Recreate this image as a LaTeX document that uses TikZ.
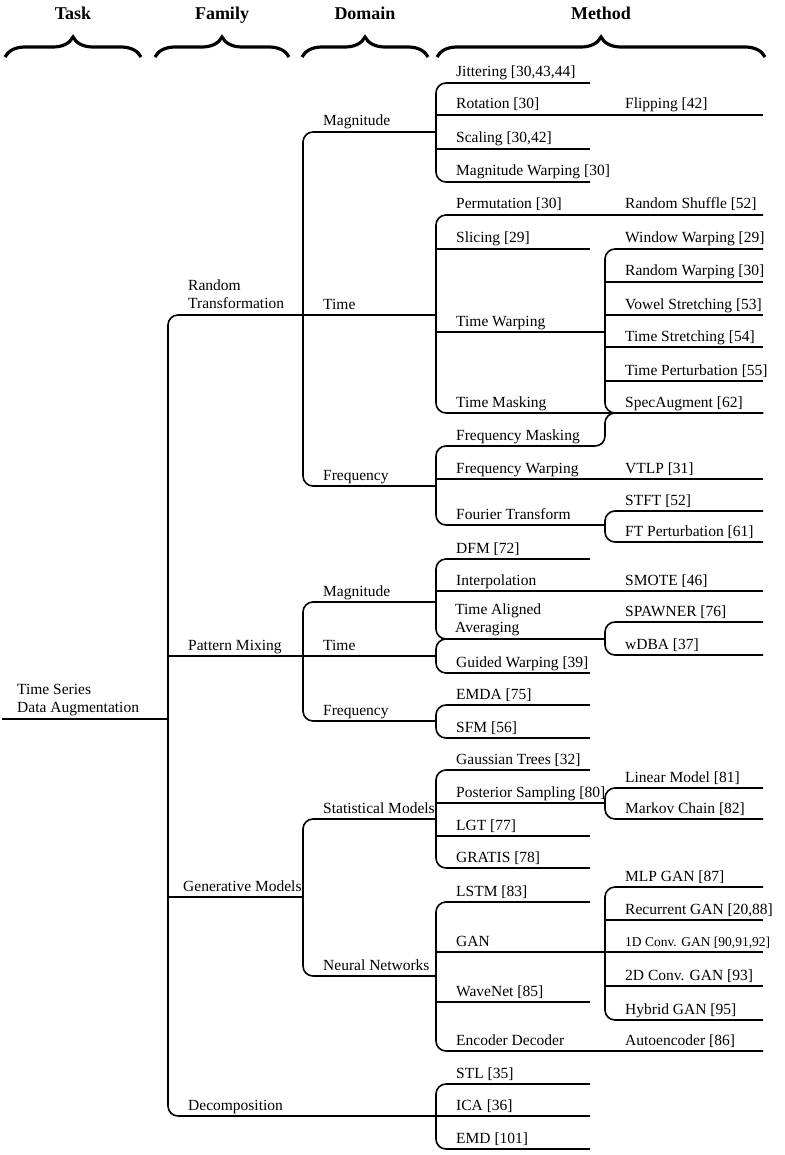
\documentclass[tikz,border=0pt]{standalone}
\usepackage{fontspec}
\setmainfont{Liberation Serif}
\usetikzlibrary{decorations.pathreplacing}

\tikzset{
  branch/.style={line width=1.6pt, rounded corners=10pt},
  lbl/.style={anchor=base west, inner sep=0pt, font=\fontsize{15.5}{18}\selectfont},
  lbltwo/.style={lbl, anchor=south west, align=left},
  head/.style={anchor=base, inner sep=0pt, font=\fontsize{18}{22}\selectfont\bfseries},
  curly/.style={decorate, decoration={brace, amplitude=20pt}, line width=3.2pt}
}

\begin{document}
\begin{tikzpicture}[x=1pt,y=-1pt]
\useasboundingbox (0,0) rectangle (784,1155);

% column headers
\foreach \n/\x/\a/\b/\t in {task/73/5/141/Task, family/222/155/289/Family,
    domain/365/302/428/Domain, method/601/437/765/Method}{
  \node[head] (\n) at (\x,20) {\t};
  \coordinate (\n-l) at (\a,57);
  \coordinate (\n-r) at (\b,57);
  \draw[curly] (\n-l) -- (\n-r);
}

% columns of the tree
\coordinate (colA) at (168,0);
\coordinate (colB) at (303,0);
\coordinate (colC) at (436,0);
\coordinate (colD) at (605,0);
\coordinate (endC) at (590,0);
\coordinate (endD) at (763,0);
\coordinate (root) at (2,719);

\foreach \n/\y in {rt/315, pm/656, gm/897, dec/1116}
  \coordinate (\n) at (168,\y);
\foreach \n/\y in {rt-mag/132, rt-time/315, rt-freq/486, pm-mag/602, pm-time/656,
    pm-freq/721, gm-stat/819, gm-nn/976}
  \coordinate (\n) at (303,\y);
\foreach \n/\y in {jit/83, rot/115, scal/149, mwarp/182, perm/215, slic/249, twarp/332,
    tmask/413, fmask/446, fwarp/479, four/525, dfm/559, interp/591, taa/639, gwarp/673,
    emda/705, sfm/738, gauss/770, post/803, lgt/836, gratis/868, lstm/902, gan/952,
    wave/1002, encdec/1051, stl/1084, ica/1116, emd/1149}
  \coordinate (\n) at (436,\y);
\foreach \n/\y in {flip/115, shuf/215, wwarp/249, rwarp/282, vowel/315, tstr/347,
    tpert/381, spec/413, vtlp/479, stft/511, ftpert/542, smote/591, spawn/622, wdba/655,
    linm/788, mark/819, mlp/887, rgan/920, cgan1/952, cgan2/986, hgan/1020, auto/1051}
  \coordinate (\n) at (605,\y);

% task and family
\draw[branch] (root) -- (root -| colA);
\draw[branch] (rt-time -| colC) -- (rt) -- (dec) -- (dec -| endC);
\draw[branch] (pm) -- (pm-time -| colC);
\draw[branch] (gm) -- (gm -| colB);

% domain
\draw[branch] (rt-mag -| colC) -- (rt-mag) -- (rt-freq) -- (rt-freq -| colC);
\draw[branch] (pm-mag -| colC) -- (pm-mag) -- (pm-freq) -- (pm-freq -| colC);
\draw[branch] (gm-stat -| colC) -- (gm-stat) -- (gm-nn) -- (gm-nn -| colC);

% method, first column
\draw[branch] (jit -| endC) -- (jit) -- (mwarp) -- (mwarp -| endC);
\draw[branch] (rot) -- (rot -| endD);
\draw[branch] (scal) -- (scal -| endC);
\draw[branch] (perm -| endD) -- (perm) -- (tmask) -- (tmask -| endD);
\draw[branch] (slic) -- (slic -| endC);
\draw[branch] (twarp) -- (twarp -| colD);
\draw[branch] (spec -| endD) -- (spec) -- (fmask -| colD) -- (fmask) -- (four) -- (four -| colD);
\draw[branch] (fwarp) -- (fwarp -| endD);
\draw[branch] (dfm -| endC) -- (dfm) -- (taa) -- (taa -| colD);
\draw[branch] (interp) -- (interp -| endD);
\draw[branch] (taa -| colD) -- (taa) -- (gwarp) -- (gwarp -| endC);
\draw[branch] (emda -| endC) -- (emda) -- (sfm) -- (sfm -| endC);
\draw[branch] (gauss -| endC) -- (gauss) -- (gratis) -- (gratis -| endC);
\draw[branch] (post) -- (post -| colD);
\draw[branch] (lgt) -- (lgt -| endC);
\draw[branch] (lstm -| endC) -- (lstm) -- (encdec) -- (encdec -| endD);
\draw[branch] (gan) -- (gan -| endD);
\draw[branch] (wave) -- (wave -| endC);
\draw[branch] (stl -| endC) -- (stl) -- (emd) -- (emd -| endC);

% method, second column
\draw[branch] (wwarp -| endD) -- (wwarp) -- (spec) -- (spec -| endD);
\foreach \n in {rwarp, vowel, tstr, tpert, rgan, cgan2}
  \draw[branch] (\n) -- (\n -| endD);
\draw[branch] (stft -| endD) -- (stft) -- (ftpert) -- (ftpert -| endD);
\draw[branch] (spawn -| endD) -- (spawn) -- (wdba) -- (wdba -| endD);
\draw[branch] (linm -| endD) -- (linm) -- (mark) -- (mark -| endD);
\draw[branch] (mlp -| endD) -- (mlp) -- (hgan) -- (hgan -| endD);

% labels
\node[lbltwo] (root-t) at (17,716) {Time Series\\Data Augmentation};
\node[lbltwo] (rt-t) at (188,309) {Random\\Transformation};
\node[lbl] (gm-t) at ([shift={(15,-6)}]gm) {Generative Models};
\node[lbltwo] (taa-t) at ([shift={(19,-3)}]taa) {Time Aligned\\Averaging};
\node[lbl, font=\fontsize{13.5}{16}\selectfont] (cgan1-t) at ([shift={(20,-6)}]cgan1) {1D Conv. GAN [90,91,92]};
\foreach \n/\t in {pm/{Pattern Mixing}, dec/Decomposition,
    rt-mag/Magnitude, rt-time/Time, rt-freq/Frequency, pm-mag/Magnitude, pm-time/Time,
    pm-freq/Frequency, gm-stat/{Statistical Models}, gm-nn/{Neural Networks},
    jit/{Jittering [30,43,44]}, rot/{Rotation [30]}, scal/{Scaling [30,42]},
    mwarp/{Magnitude Warping [30]}, perm/{Permutation [30]}, slic/{Slicing [29]},
    twarp/{Time Warping}, tmask/{Time Masking}, fmask/{Frequency Masking},
    fwarp/{Frequency Warping}, four/{Fourier Transform}, dfm/{DFM [72]},
    interp/{Interpolation}, gwarp/{Guided Warping [39]}, emda/{EMDA [75]}, sfm/{SFM [56]},
    gauss/{Gaussian Trees [32]}, post/{Posterior Sampling [80]}, lgt/{LGT [77]},
    gratis/{GRATIS [78]}, lstm/{LSTM [83]}, gan/GAN, wave/{WaveNet [85]},
    encdec/{Encoder Decoder}, stl/{STL [35]}, ica/{ICA [36]}, emd/{EMD [101]},
    flip/{Flipping [42]}, shuf/{Random Shuffle [52]}, wwarp/{Window Warping [29]},
    rwarp/{Random Warping [30]}, vowel/{Vowel Stretching [53]}, tstr/{Time Stretching [54]},
    tpert/{Time Perturbation [55]}, spec/{SpecAugment [62]}, vtlp/{VTLP [31]},
    stft/{STFT [52]}, ftpert/{FT Perturbation [61]}, smote/{SMOTE [46]},
    spawn/{SPAWNER [76]}, wdba/{wDBA [37]}, linm/{Linear Model [81]},
    mark/{Markov Chain [82]}, mlp/{MLP GAN [87]}, rgan/{Recurrent GAN [20,88]},
    cgan2/{2D Conv. GAN [93]}, hgan/{Hybrid GAN [95]}, auto/{Autoencoder [86]}}
  \node[lbl] (\n-t) at ([shift={(20,-6)}]\n) {\t};
\end{tikzpicture}
\end{document}
